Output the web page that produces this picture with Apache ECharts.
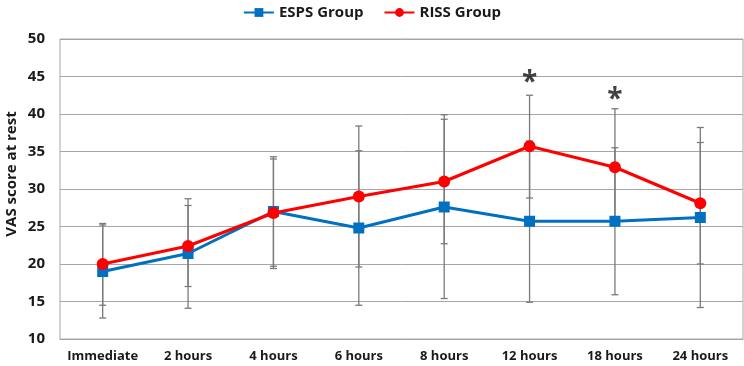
<!DOCTYPE html>
<html>
<head>
<meta charset="utf-8">
<script src="https://cdn.jsdelivr.net/npm/echarts@6/dist/echarts.min.js"></script>
<style>
  html, body { margin: 0; padding: 0; background: #fff; }
  #chart { width: 744px; height: 366px; }
</style>
</head>
<body>
<div id="chart"></div>
<script>
var categories = ["Immediate", "2 hours", "4 hours", "6 hours", "8 hours", "12 hours", "18 hours", "24 hours"];

var espsMean = [19.0, 21.4, 27.0, 24.8, 27.6, 25.7, 25.7, 26.2];
var espsLow = [12.8, 14.1, 19.7, 14.5, 15.4, 14.9, 15.9, 14.2];
var espsHigh = [25.2, 28.7, 34.3, 35.1, 39.9, 36.4, 35.5, 38.2];

var rissMean = [20.0, 22.4, 26.8, 29.0, 31.0, 35.7, 32.9, 28.1];
var rissLow = [14.5, 17.0, 19.4, 19.6, 22.7, 28.8, 25.2, 20.0];
var rissHigh = [25.4, 27.8, 34.0, 38.4, 39.3, 42.5, 40.7, 36.2];

// significance marks: [category index, y value]
var stars = [[5, 45.0], [6, 42.8]];

var yTicks = { min: 10, max: 50, step: 5 };

var font = "Open Sans";
var textColor = "#1a1a1a";
var gridColor = "#a6a6a6";
var errColor = "#7a7a7a";

function barData(low, high) {
  return categories.map(function (c, i) {
    return [i, low[i], high[i]];
  });
}

function renderErr(params, api) {
  var x = api.value(0);
  var top = api.coord([x, api.value(2)]);
  var bot = api.coord([x, api.value(1)]);
  var hw = 3.5;
  var style = { stroke: errColor, lineWidth: 1.3 };
  return {
    type: "group",
    children: [
      { type: "line", shape: { x1: top[0], y1: top[1], x2: bot[0], y2: bot[1] }, style: style },
      { type: "line", shape: { x1: top[0] - hw, y1: top[1], x2: top[0] + hw, y2: top[1] }, style: style },
      { type: "line", shape: { x1: bot[0] - hw, y1: bot[1], x2: bot[0] + hw, y2: bot[1] }, style: style },
    ],
  };
}

var chart = echarts.init(document.getElementById("chart"), null, { renderer: "canvas" });

var option = {
  animation: false,
  textStyle: { fontFamily: font },
  legend: {
    top: 0,
    left: "center",
    itemWidth: 30,
    itemHeight: 11,
    itemGap: 20,
    data: ["ESPS Group", "RISS Group"],
    textStyle: { fontFamily: font, fontWeight: "bold", fontSize: 15, color: textColor },
  },
  grid: {
    left: 60,
    right: 1,
    top: 39,
    bottom: 27,
    show: true,
    borderColor: gridColor,
    borderWidth: 1,
    containLabel: false,
  },
  xAxis: {
    type: "category",
    data: categories,
    boundaryGap: true,
    axisTick: { show: false },
    axisLine: { show: true, lineStyle: { color: gridColor } },
    axisLabel: { fontFamily: font, fontWeight: "bold", fontSize: 13, color: textColor, margin: 11, interval: 0 },
  },
  yAxis: {
    type: "value",
    min: yTicks.min,
    max: yTicks.max,
    interval: yTicks.step,
    axisLine: { show: false },
    axisTick: { show: false },
    splitLine: { lineStyle: { color: gridColor, width: 1 } },
    axisLabel: { fontFamily: font, fontWeight: "bold", fontSize: 15, color: textColor, margin: 15 },
  },
  graphic: [
    {
      type: "text",
      x: 12,
      y: 174,
      rotation: Math.PI / 2,
      style: {
        text: "VAS score at rest",
        font: "bold 15px " + font,
        fill: textColor,
        align: "center",
        verticalAlign: "middle",
      },
    },
  ],
  series: [
    {
      type: "custom",
      name: "espsErr",
      renderItem: renderErr,
      data: barData(espsLow, espsHigh),
      encode: { x: 0, y: [1, 2] },
      z: 1,
      silent: true,
    },
    {
      type: "custom",
      name: "rissErr",
      renderItem: renderErr,
      data: barData(rissLow, rissHigh),
      encode: { x: 0, y: [1, 2] },
      z: 1,
      silent: true,
    },
    {
      name: "ESPS Group",
      type: "line",
      data: espsMean,
      symbol: "rect",
      symbolSize: 11,
      color: "#0070C0",
      lineStyle: { width: 3, color: "#0070C0" },
      itemStyle: { color: "#0070C0" },
      z: 3,
    },
    {
      name: "RISS Group",
      type: "line",
      data: rissMean,
      symbol: "circle",
      symbolSize: 12,
      color: "#FF0000",
      lineStyle: { width: 3, color: "#FF0000" },
      itemStyle: { color: "#FF0000" },
      z: 4,
    },
    {
      name: "stars",
      type: "scatter",
      data: stars,
      symbolSize: 1,
      itemStyle: { color: "rgba(0,0,0,0)" },
      label: {
        show: true,
        position: "inside",
        formatter: "*",
        fontFamily: font,
        fontWeight: "bold",
        fontSize: 28,
        color: "#111",
        offset: [0, 7],
      },
      silent: true,
      z: 5,
    },
  ],
};

chart.setOption(option);
</script>
</body>
</html>
